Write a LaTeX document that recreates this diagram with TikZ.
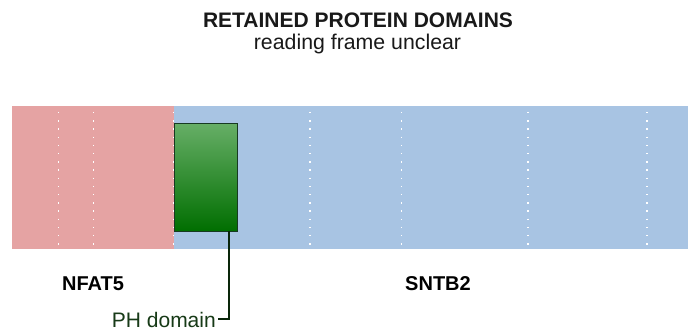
\documentclass[tikz,border=0pt]{standalone}
\usepackage{fontspec}
\setmainfont{Liberation Sans}
\definecolor{nfatred}{HTML}{E5A3A3}
\definecolor{sntbblue}{HTML}{A8C4E3}
\definecolor{phtop}{HTML}{66AE66}
\definecolor{phbot}{HTML}{006E00}
\definecolor{phedge}{HTML}{173A22}
\definecolor{phtext}{HTML}{173A17}
\definecolor{lead}{HTML}{0A260A}
\tikzset{
  seg/.style={draw=none, inner sep=0pt, anchor=north west},
  sep/.style={white, line width=1.4pt, dash pattern=on 1.4pt off 6.8pt},
  gene/.style={font=\fontsize{20}{24}\selectfont\bfseries, inner sep=0pt},
  dom/.style={draw=phedge, line width=1pt, top color=phtop, bottom color=phbot, inner sep=0pt, anchor=north west},
}
\begin{document}
\begin{tikzpicture}[x=1pt, y=-1pt]
\useasboundingbox (0,0) rectangle (688,331);
\fill[white] (0,0) rectangle (688,331);
\node[font=\fontsize{21}{25}\selectfont\bfseries, text=black!90, inner sep=0pt] (title) at (358,20) {RETAINED PROTEIN DOMAINS};
\node[font=\fontsize{21.3}{25}\selectfont, text=black!90, inner sep=0pt] (sub) at (357.5,44) {reading frame unclear};
\node[seg, fill=nfatred, minimum width=162pt, minimum height=143pt] (nfat) at (12,106) {};
\node[seg, fill=sntbblue, minimum width=514pt, minimum height=143pt] (sntb) at (174,106) {};
\foreach \x in {58.7,93.3,173.7,310,401.7,528,647}
  \draw[sep] (\x,112) -- (\x,248);
\node[dom, minimum width=63pt, minimum height=107.5pt] (ph) at (173.7,123.5) {};
\node[gene] (g1) at (93,284) {NFAT5};
\node[gene] (g2) at (438,284) {SNTB2};
\node[font=\fontsize{21}{25}\selectfont, text=phtext, inner sep=0pt, anchor=east] (phl) at (216,320) {PH domain};
\coordinate (c) at (229,231);
\draw[lead, line width=1.6pt] (c) -- (229,319) -- ([xshift=2pt]phl.east |- 229,319);
\end{tikzpicture}
\end{document}
